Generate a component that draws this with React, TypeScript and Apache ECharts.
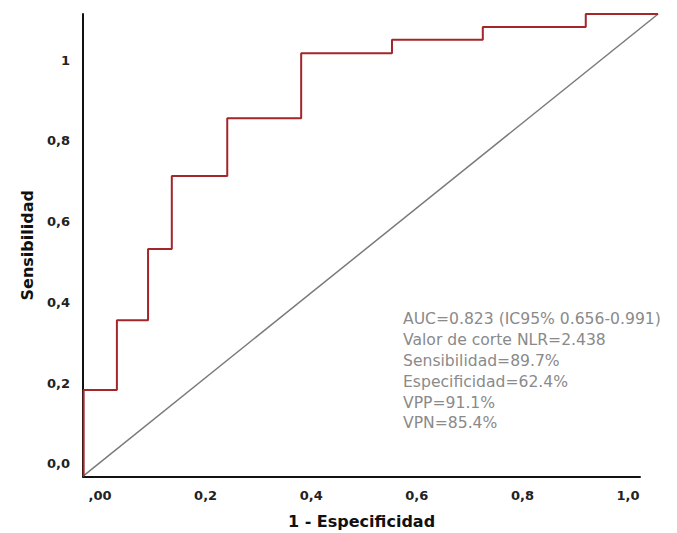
import React, { useEffect, useRef } from "react";
import * as echarts from "echarts";

// ROC curve corner values (1 - especificidad, sensibilidad) as drawn on the picture's scale
const fprValues = [-0.031, 0.032, 0.091, 0.136, 0.241, 0.381, 0.553, 0.725, 0.92, 1.057];
const tprValues = [-0.03, 0.183, 0.356, 0.532, 0.713, 0.856, 1.017, 1.05, 1.082, 1.114];
// reference diagonal
const diagonal = [
  [-0.032, -0.03],
  [1.057, 1.114],
];
const xTickValues = [0, 0.2, 0.4, 0.6, 0.8, 1.0];
const xTickLabels = [",00", "0,2", "0,4", "0,6", "0,8", "1,0"];
const yTickValues = [0, 0.2, 0.4, 0.6, 0.8, 1.0];
const yTickLabels = ["0,0", "0,2", "0,4", "0,6", "0,8", "1"];
const statsLines = [
  "AUC=0.823 (IC95% 0.656-0.991)",
  "Valor de corte NLR=2.438",
  "Sensibilidad=89.7%",
  "Especificidad=62.4%",
  "VPP=91.1%",
  "VPN=85.4%",
];

const X_MIN = -0.0322;
const X_AXIS_MAX = 1.0227;
const X_DATA_MAX = 1.0568;
const Y_MIN = -0.031;
const Y_MAX = 1.114;

export default function App() {
  const ref = useRef<HTMLDivElement>(null);
  useEffect(() => {
    document.body.style.margin = "0";
    if (!ref.current) return;
    const chart = echarts.init(ref.current, null, { renderer: "svg" });
    const curve: number[][] = [[fprValues[0], tprValues[0]]];
    for (let i = 1; i < fprValues.length; i++) {
      curve.push([fprValues[i - 1], tprValues[i]]);
      curve.push([fprValues[i], tprValues[i]]);
    }
    const labelOf = (vals: number[], labels: string[]) => (v: number) => {
      const idx = vals.findIndex((t) => Math.abs(t - v) < 1e-6);
      return idx >= 0 ? labels[idx] : "";
    };
    const hiddenAxis = {
      show: false,
      type: "value",
      axisLine: { show: false },
      axisTick: { show: false },
      axisLabel: { show: false },
      splitLine: { show: false },
    };
    chart.setOption({
      animation: false,
      backgroundColor: "#ffffff",
      grid: [
        { left: 83, right: 37, top: 14, bottom: 56.5, containLabel: false, outerBoundsMode: "none" },
        { left: 83, right: 19, top: 14, bottom: 56.5, containLabel: false, outerBoundsMode: "none" },
      ],
      xAxis: [
        {
          type: "value",
          gridIndex: 0,
          min: X_MIN,
          max: X_AXIS_MAX,
          name: "1 - Especificidad",
          nameLocation: "middle",
          nameGap: 37,
          nameTextStyle: {
            fontFamily: "DejaVu Sans",
            fontWeight: "bold",
            fontSize: 16,
            color: "#111",
          },
          axisLine: { show: true, onZero: false, lineStyle: { color: "#111", width: 2 } },
          axisTick: { show: false },
          splitLine: { show: false },
          axisLabel: {
            customValues: xTickValues,
            formatter: labelOf(xTickValues, xTickLabels),
            fontFamily: "DejaVu Sans",
            fontWeight: "bold",
            fontSize: 13,
            color: "#222",
            margin: 12,
          },
        },
        { ...hiddenAxis, gridIndex: 1, min: X_MIN, max: X_DATA_MAX },
      ],
      yAxis: [
        {
          type: "value",
          gridIndex: 0,
          min: Y_MIN,
          max: Y_MAX,
          name: "Sensibilidad",
          nameLocation: "middle",
          nameGap: 48,
          nameRotate: 90,
          nameTextStyle: {
            fontFamily: "DejaVu Sans",
            fontWeight: "bold",
            fontSize: 16,
            color: "#111",
          },
          axisLine: { show: true, onZero: false, lineStyle: { color: "#111", width: 2 } },
          axisTick: { show: false },
          splitLine: { show: false },
          axisLabel: {
            customValues: yTickValues,
            formatter: labelOf(yTickValues, yTickLabels),
            fontFamily: "DejaVu Sans",
            fontWeight: "bold",
            fontSize: 13,
            color: "#222",
            margin: 13,
          },
        },
        { ...hiddenAxis, gridIndex: 1, min: Y_MIN, max: Y_MAX },
      ],
      series: [
        {
          type: "line",
          xAxisIndex: 1,
          yAxisIndex: 1,
          data: diagonal,
          symbol: "none",
          clip: false,
          lineStyle: { color: "#7a7a7a", width: 1.5 },
          z: 2,
        },
        {
          type: "line",
          xAxisIndex: 1,
          yAxisIndex: 1,
          data: curve,
          symbol: "none",
          clip: false,
          lineStyle: { color: "#a3262a", width: 2 },
          z: 3,
        },
      ],
      graphic: [
        {
          type: "text",
          left: 403,
          top: 309,
          style: {
            text: statsLines.join("\n"),
            fontFamily: "DejaVu Sans",
            fontSize: 15.6,
            lineHeight: 20.8,
            fill: "#8a8a8a",
          },
        },
      ],
    });
    return () => chart.dispose();
  }, []);
  return <div ref={ref} style={{ width: 677, height: 533 }} />;
}
